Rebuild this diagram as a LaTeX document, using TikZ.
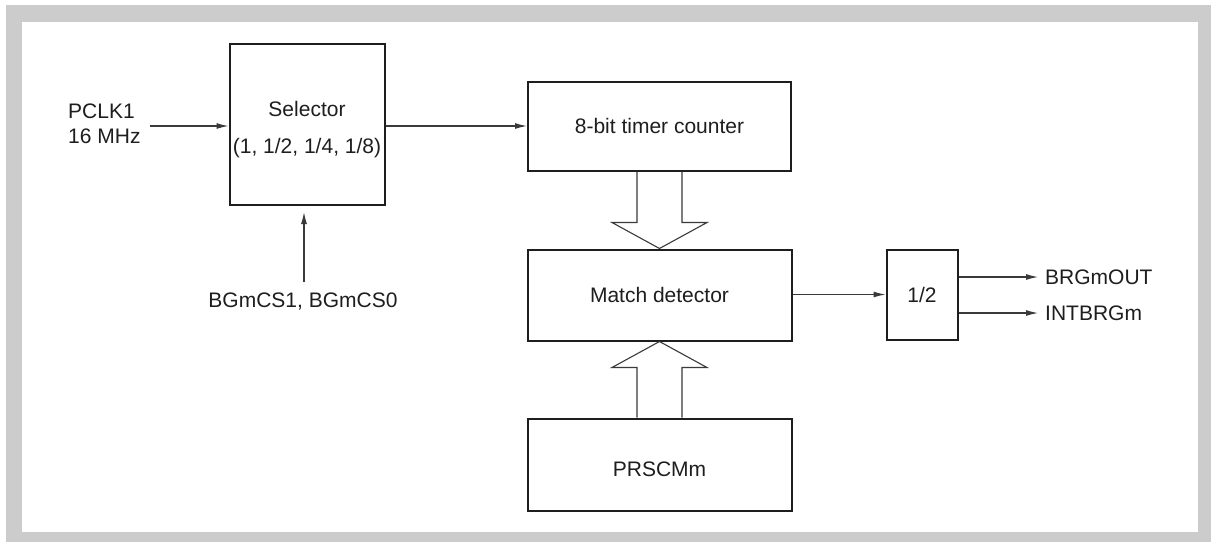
\documentclass[tikz,border=0pt]{standalone}
\usepackage{fontspec}
\setmainfont{Liberation Sans}
\usetikzlibrary{arrows.meta,calc}
\definecolor{framegray}{HTML}{CCCCCC}
\definecolor{ink}{HTML}{1E1E1E}
\definecolor{wire}{HTML}{3A3A3A}
\tikzset{
  block/.style={draw=ink,line width=2pt,inner sep=0pt,text=ink},
  lbl/.style={inner sep=0pt,text=ink},
  arr/.style={draw=wire,line width=1.1pt,-{Latex[length=12pt,width=6pt]}},
  hollow/.style={draw=wire,line width=1.1pt,line join=miter}
}
\begin{document}
\begin{tikzpicture}[x=1pt,y=-1pt,font=\fontsize{21}{25}\selectfont]
\useasboundingbox (0,0) rectangle (1211,542);
\fill[framegray] (6,5) rectangle (1211,542);
\fill[white] (22,22) rectangle (1198,532);

% blocks
\node[block,minimum width=155pt,minimum height=161pt] (sel) at (307,124) {};
\node[lbl,align=center] (seltxt) at (307,130) {Selector\\[12pt](1, 1/2, 1/4, 1/8)};
\node[block,minimum width=263pt,minimum height=89pt] (tim) at (659.5,126) {8-bit timer counter};
\node[block,minimum width=264pt,minimum height=91pt] (mat) at (659.5,295) {Match detector};
\node[block,minimum width=264pt,minimum height=92pt] (prs) at (659.5,464.5) {};
\node[lbl] (prstxt) at (659.5,469.5) {PRSCMm};
\node[block,minimum width=71pt,minimum height=90pt] (half) at (922,294.5) {1/2};

% labels
\node[lbl,align=left,anchor=west] (pclk) at (68,124) {PCLK1\\16 MHz};
\node[lbl] (bgcs) at (303,302) {BGmCS1, BGmCS0};
\node[lbl,anchor=west] (bo) at (1045,277) {BRGmOUT};
\node[lbl,anchor=west] (ib) at (1045,313) {INTBRGm};

\coordinate (pin) at (150,126);
\coordinate (bgs) at (304,282);
\coordinate (bge) at (304,212);

% connectors
\draw[arr] (pin) -- (pin -| sel.west);
\draw[arr] (bgs) -- (bge);
\draw[arr] (sel.east |- tim.west) -- (tim.west);
\draw[arr] (mat.east |- half.west) -- (half.west);
\draw[arr,shorten >=7pt] (half.east |- bo.west) -- (bo.west);
\draw[arr,shorten >=7pt] (half.east |- ib.west) -- (ib.west);

% wide hollow arrows (bus)
\draw[hollow] ($(tim.south)+(-22.5,0)$) -- ($(mat.north)+(-22.5,-26)$)
  -- ($(mat.north)+(-47.5,-26)$) -- (mat.north) -- ($(mat.north)+(47.5,-26)$)
  -- ($(mat.north)+(22.5,-26)$) -- ($(tim.south)+(22.5,0)$);
\draw[hollow] ($(prs.north)+(-22.5,0)$) -- ($(mat.south)+(-22.5,26)$)
  -- ($(mat.south)+(-47.5,26)$) -- (mat.south) -- ($(mat.south)+(47.5,26)$)
  -- ($(mat.south)+(22.5,26)$) -- ($(prs.north)+(22.5,0)$);
\end{tikzpicture}
\end{document}
